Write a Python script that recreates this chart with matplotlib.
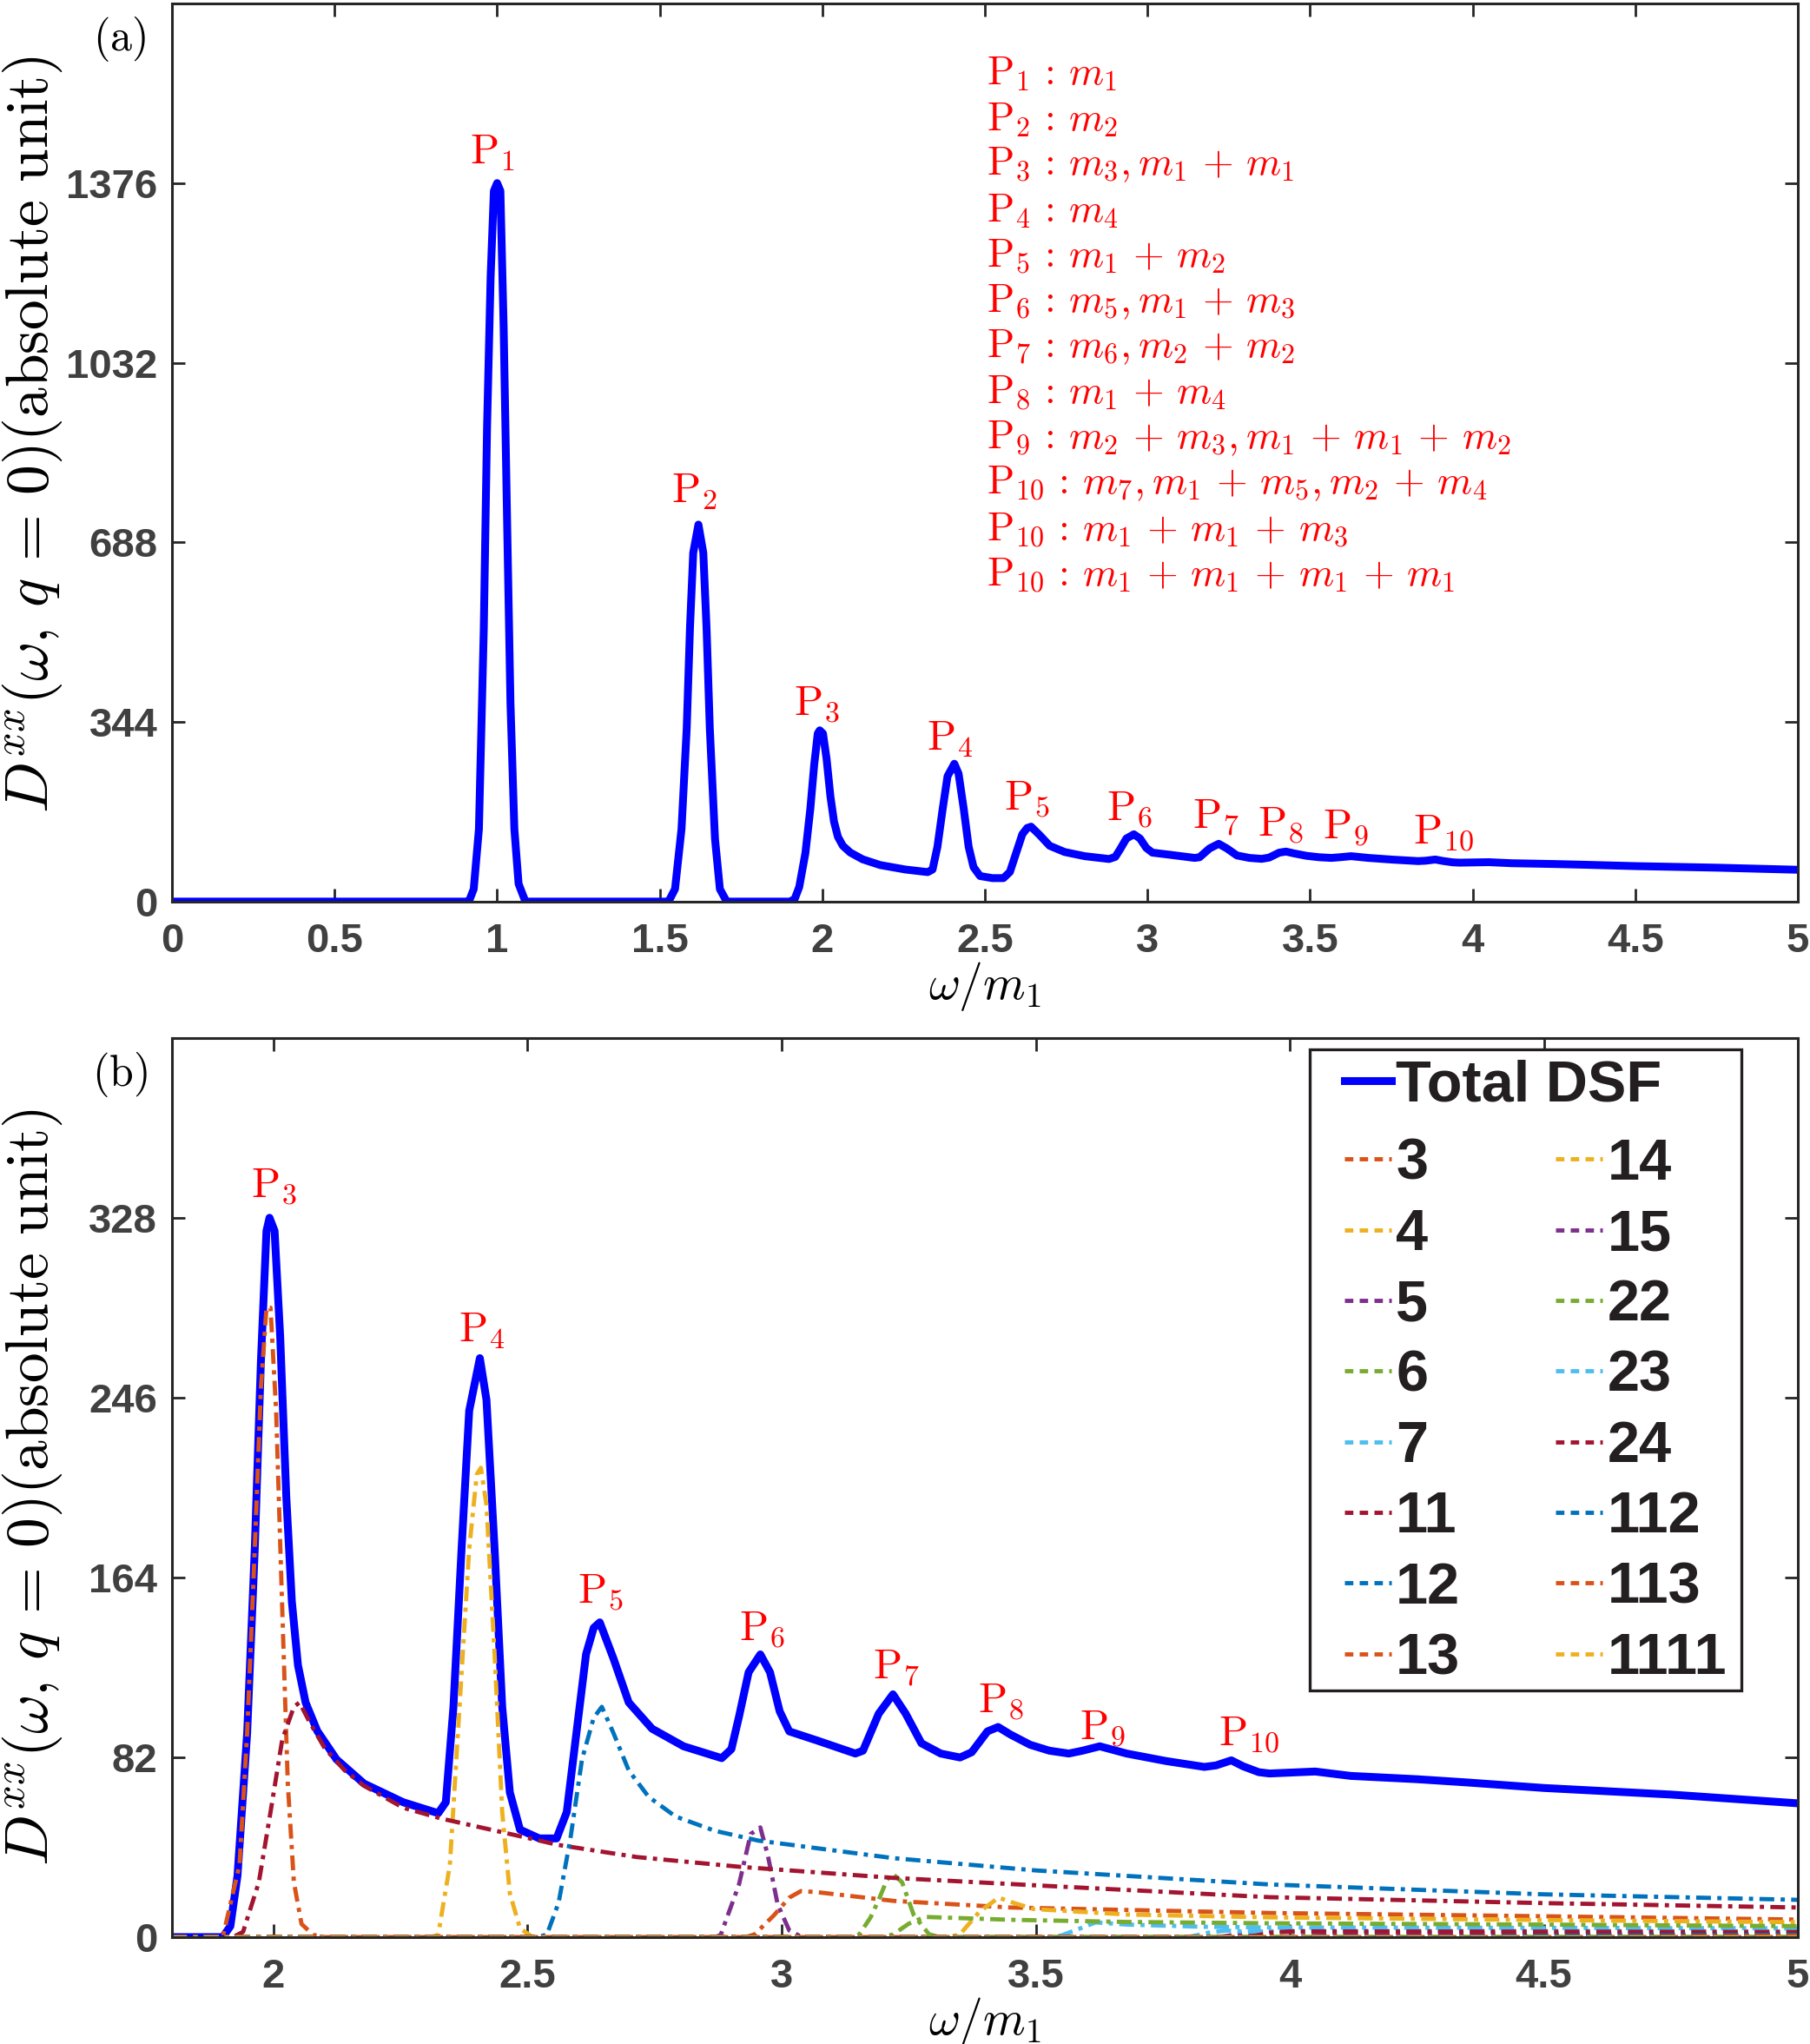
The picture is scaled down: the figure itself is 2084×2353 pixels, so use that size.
import matplotlib
matplotlib.use("Agg")
import matplotlib.pyplot as plt
from matplotlib.patches import Rectangle
from matplotlib.lines import Line2D

plt.rcParams['mathtext.fontset'] = 'cm'

# ---- donnees ----
# DSF totale (omega/m1, intensite)
tot_x = [0.0, 0.90, 0.913, 0.928, 0.944, 0.959, 0.969, 0.980, 0.990, 1.0, 1.010, 1.020, 1.031,
         1.041, 1.053, 1.066, 1.087, 1.52, 1.527, 1.547, 1.567, 1.583, 1.593, 1.603, 1.619, 1.634,
         1.644, 1.654, 1.670, 1.685, 1.706, 1.90, 1.915, 1.929, 1.948, 1.963, 1.975, 1.986, 1.992,
         2.002, 2.013, 2.025, 2.036, 2.048, 2.063, 2.086, 2.124, 2.178, 2.255, 2.324, 2.339, 2.354,
         2.370, 2.385, 2.406, 2.419, 2.435, 2.450, 2.465, 2.485, 2.523, 2.557, 2.577, 2.596, 2.615,
         2.630, 2.642, 2.669, 2.699, 2.745, 2.807, 2.882, 2.901, 2.916, 2.935, 2.958, 2.977, 2.996,
         3.015, 3.069, 3.145, 3.16, 3.191, 3.219, 3.244, 3.275, 3.313, 3.351, 3.374, 3.405, 3.426,
         3.45, 3.489, 3.527, 3.565, 3.592, 3.626, 3.679, 3.756, 3.832, 3.855, 3.885, 3.908, 3.939,
         3.96, 4.05, 4.12, 4.25, 4.35, 4.5, 4.75, 5.0]
tot_y = [0, 0, 0, 24, 139, 524, 909, 1197, 1361, 1376, 1361, 1101, 716,
         380, 139, 34, 0, 0, 0, 24, 139, 332, 524, 668, 722, 668,
         524, 332, 120, 24, 0, 0, 5, 28, 93, 177, 262, 322, 328,
         322, 274, 201, 153, 124, 107, 94, 81, 70, 61.5, 56.5, 61.5, 105,
         177, 240, 264, 245, 177, 105, 66, 49, 45, 45, 57, 93, 129,
         141, 143.5, 127, 107, 95, 87, 81.6, 85.7, 100.5, 120.8, 128.9, 120.8, 103,
         93.8, 89.7, 83.7, 85, 101.9, 110.7, 101.9, 88.4, 83.7, 81.9, 84.3, 93.8, 95.8,
         92.4, 87.7, 85, 83.7, 85, 87, 83.7, 80.3, 77.6, 78.3, 80.6, 77.9, 75.2,
         74.6, 75.5, 73.5, 72, 70.5, 68, 65, 61]

# contributions (figure b)
c3_x = [1.80, 1.90, 1.933, 1.948, 1.963, 1.975, 1.986, 1.994, 2.005, 2.017, 2.028, 2.040, 2.055, 2.078, 2.10, 5.0]
c3_y = [0, 0, 33, 93, 177, 250, 287, 287, 240, 150, 70, 25, 6, 1, 0, 0]
c4_x = [1.8, 2.31, 2.324, 2.347, 2.366, 2.385, 2.40, 2.408, 2.419, 2.435, 2.45, 2.465, 2.485, 2.51, 5.0]
c4_y = [0, 0, 1, 33, 105, 177, 211, 214, 197, 129, 57, 20, 4, 0, 0]
c5_x = [1.8, 2.87, 2.88, 2.916, 2.939, 2.958, 2.973, 2.992, 3.015, 3.04, 5.0]
c5_y = [0, 0, 1, 24, 47, 50, 37, 15, 3, 0, 0]
c6_x = [1.8, 3.14, 3.153, 3.175, 3.191, 3.207, 3.218, 3.237, 3.26, 3.29, 3.31, 5.0]
c6_y = [0, 0, 1.3, 9, 17, 26, 29, 25, 10, 1.3, 0, 0]
c7_x = [1.8, 3.53, 3.55, 3.588, 3.618, 3.68, 3.83, 3.96, 4.5, 5.0]
c7_y = [0, 0, 0.7, 4, 6.7, 5.7, 4.7, 4.4, 4.2, 4.0]
c11_x = [1.8, 1.92, 1.94, 1.971, 1.994, 2.017, 2.04, 2.051, 2.071, 2.101, 2.14, 2.178, 2.255, 2.331,
         2.485, 2.561, 2.715, 2.92, 3.22, 3.5, 3.96, 4.5, 5.0]
c11_y = [0, 0, 2.4, 25, 57, 90, 105, 107, 98, 86, 76, 69, 59, 54,
         46, 42, 36.5, 32, 27, 23.6, 18.2, 15.5, 13.5]
c12_x = [1.8, 2.52, 2.538, 2.561, 2.584, 2.607, 2.63, 2.646, 2.669, 2.699, 2.738, 2.791, 2.868, 2.954,
         3.22, 3.5, 3.96, 4.5, 5.0]
c12_y = [0, 0, 1.2, 15.7, 44.6, 81, 100, 105, 93, 76, 64, 55, 48.5, 44,
         36, 30.4, 24, 19.5, 17]
c13_x = [1.8, 2.93, 2.947, 2.985, 3.015, 3.038, 3.069, 3.221, 3.45, 3.96, 4.5, 5.0]
c13_y = [0, 0, 1.3, 10, 18, 21, 20.5, 16.5, 13.5, 11, 9.5, 8]
c14_x = [1.8, 3.33, 3.351, 3.389, 3.427, 3.458, 3.496, 3.679, 3.96, 4.5, 5.0]
c14_y = [0, 0, 1.3, 11.5, 18, 15.5, 12.8, 10.3, 9, 7.8, 6.8]
c15_x = [1.8, 3.86, 3.92, 3.96, 4.1, 4.5, 5.0]
c15_y = [0, 0, 2, 2.5, 2, 1.6, 1.2]
c22_x = [1.8, 3.20, 3.22, 3.25, 3.282, 3.45, 3.68, 3.96, 4.5, 5.0]
c22_y = [0, 0, 1.3, 6.1, 9.2, 7.9, 6.9, 6.3, 5.7, 5]
c23_x = [1.8, 3.8, 3.84, 3.875, 3.91, 4.0, 4.5, 5.0]
c23_y = [0, 0, 2, 3, 2.5, 2.8, 2.8, 2.6]
c24_x = [1.8, 3.92, 3.96, 4.0, 4.5, 5.0]
c24_y = [0, 0, 2, 2.6, 2.5, 2.3]
c112_x = [1.8, 4.3, 4.5, 5.0]
c112_y = [0, 0, 0.6, 1.0]
c113_x = [1.8, 4.6, 5.0]
c113_y = [0, 0, 0.5]
c1111_x = [1.8, 5.0]
c1111_y = [0, 0]

comp_names = ['3', '4', '5', '6', '7', '11', '12', '13', '14', '15', '22', '23', '24', '112', '113', '1111']
comp_x = [c3_x, c4_x, c5_x, c6_x, c7_x, c11_x, c12_x, c13_x, c14_x, c15_x, c22_x, c23_x, c24_x, c112_x, c113_x, c1111_x]
comp_y = [c3_y, c4_y, c5_y, c6_y, c7_y, c11_y, c12_y, c13_y, c14_y, c15_y, c22_y, c23_y, c24_y, c112_y, c113_y, c1111_y]
# couleurs par defaut de matlab, dans l'ordre
matlab_cols = ['#D95319', '#EDB120', '#7E2F8E', '#77AC30', '#4DBEEE', '#A2142F', '#0072BD']

# etiquettes des pics
pk_names = [r'$\mathrm{P}_{%d}$' % i for i in range(1, 11)]
pk_a_x = [0.986, 1.607, 1.983, 2.392, 2.628, 2.945, 3.209, 3.41, 3.61, 3.91]
pk_a_y = [1436, 786, 380, 313, 200, 180, 163, 150, 145, 135]
pk_b_x = [2.0, 2.41, 2.644, 2.962, 3.226, 3.431, 3.631, 3.92]
pk_b_y = [343, 277, 158, 141, 123, 108, 96, 93]

# attribution des modes (texte de la figure a)
modes = [r'P_{1}:m_{1}',
         r'P_{2}:m_{2}',
         r'P_{3}:m_{3},m_{1}+m_{1}',
         r'P_{4}:m_{4}',
         r'P_{5}:m_{1}+m_{2}',
         r'P_{6}:m_{5},m_{1}+m_{3}',
         r'P_{7}:m_{6},m_{2}+m_{2}',
         r'P_{8}:m_{1}+m_{4}',
         r'P_{9}:m_{2}+m_{3},m_{1}+m_{1}+m_{2}',
         r'P_{10}:m_{7},m_{1}+m_{5},m_{2}+m_{4}',
         r'P_{10}:m_{1}+m_{1}+m_{3}',
         r'P_{10}:m_{1}+m_{1}+m_{1}+m_{1}']

xt_a = [0, 0.5, 1, 1.5, 2, 2.5, 3, 3.5, 4, 4.5, 5]
xt_b = [2, 2.5, 3, 3.5, 4, 4.5, 5]
yt_a = [0, 344, 688, 1032, 1376]
yt_b = [0, 82, 164, 246, 328]

tick_font = dict(family=['Liberation Sans', 'DejaVu Sans'], weight='bold', size=34)
ylab = r'$D^{xx}(\omega,\,q\,=\,0)(\mathrm{absolute\ unit})$'
spine_col = '#262626'


def to_math(s):
	# espacement a la latex autour de ':' et '+'
	s = s.replace('P_', r'\mathrm{P}_').replace(':', r'\,:\,').replace('+', r'\,+\,')
	return '$' + s + '$'


def style_axes(ax, xt, yt, ylab_y=0.5):
	ax.set_xticks(xt)
	ax.set_xticklabels([('%g' % v) for v in xt], fontdict=tick_font, color='#404040')
	ax.set_yticks(yt)
	ax.set_yticklabels([('%g' % v) for v in yt], fontdict=tick_font, color='#404040')
	ax.tick_params(direction='in', length=11, width=2, top=True, right=True, color=spine_col)
	ax.tick_params(axis='x', pad=17)
	ax.tick_params(axis='y', pad=12)
	for s in ax.spines.values():
		s.set_linewidth(2.2)
		s.set_color(spine_col)
	ax.set_xlabel(r'$\omega/m_1$', fontsize=40)
	ax.xaxis.set_label_coords(0.5, -0.094)
	ax.xaxis.label.set_verticalalignment('center')
	ax.set_ylabel(ylab, fontsize=50)
	ax.yaxis.set_label_coords(-0.086, ylab_y)
	ax.yaxis.label.set_verticalalignment('center')


fig = plt.figure(figsize=(20.84, 23.53), dpi=100)
axA = fig.add_axes([0.095, 0.5589, 0.8983, 0.4394])
axB = fig.add_axes([0.095, 0.0523, 0.8983, 0.4399])

# ---- (a) ----
axA.plot(tot_x, tot_y, color='#0000FF', lw=6.5, solid_joinstyle='round')
axA.set_xlim(0, 5)
axA.set_ylim(0, 1720)
style_axes(axA, xt_a, yt_a, ylab_y=0.52)
for i in range(len(pk_names)):
	axA.text(pk_a_x[i], pk_a_y[i], pk_names[i], color='red', fontsize=35, ha='center', va='center')
for i, m in enumerate(modes):
	axA.text(0.5008, 0.9216 - 0.0507 * i, to_math(m), color='red', fontsize=33, ha='left',
			 va='center', transform=axA.transAxes)

# ---- (b) ----
hTot, = axB.plot(tot_x, tot_y, color='#0000FF', lw=6.5, solid_joinstyle='round', label='Total DSF')
handles = []
for i in range(len(comp_names)):
	h, = axB.plot(comp_x[i], comp_y[i], color=matlab_cols[i % 7], lw=3.5,
				  linestyle=(0, (3.5, 1.5, 1.0, 1.5)), label=comp_names[i])
	handles.append(h)
axB.set_xlim(1.8, 5)
axB.set_ylim(0, 410)
style_axes(axB, xt_b, yt_b)
for i in range(len(pk_b_x)):
	axB.text(pk_b_x[i], pk_b_y[i], pk_names[i + 2], color='red', fontsize=35, ha='center', va='center')

# legende : cadre + deux legendes sans cadre
leg_font = dict(family=['Liberation Sans', 'DejaVu Sans'], weight='bold', size=48)
axB.add_patch(Rectangle((0.700, 0.274), 0.265, 0.713, transform=axB.transAxes,
						facecolor='white', edgecolor='#231F20', lw=2.4, zorder=4))
legH = [Line2D([], [], color=h.get_color(), lw=3.5, linestyle=(0, (2.0, 1.5))) for h in handles]
legA = axB.legend([hTot], ['Total DSF'], loc='center left', bbox_to_anchor=(0.721, 0.946),
				  frameon=False, borderpad=0, borderaxespad=0, handlelength=0.81,
				  handletextpad=0.08, prop=leg_font)
legA.set_zorder(5)
for t in legA.get_texts():
	t.set_color('#231F20')
axB.add_artist(legA)
legB = axB.legend(legH, comp_names, loc='upper left', bbox_to_anchor=(0.721, 0.889), ncol=2,
				  frameon=False, borderpad=0, borderaxespad=0, handlelength=0.81,
				  handletextpad=0.08, labelspacing=0.29, columnspacing=1.65, prop=leg_font)
legB.set_zorder(5)
for t in legB.get_texts():
	t.set_color('#231F20')

fig.text(0.0662, 0.9809, r'$\mathrm{(a)}$', fontsize=36, ha='center', va='center')
fig.text(0.0662, 0.4743, r'$\mathrm{(b)}$', fontsize=36, ha='center', va='center')

fig.savefig('out.png', dpi=100)
